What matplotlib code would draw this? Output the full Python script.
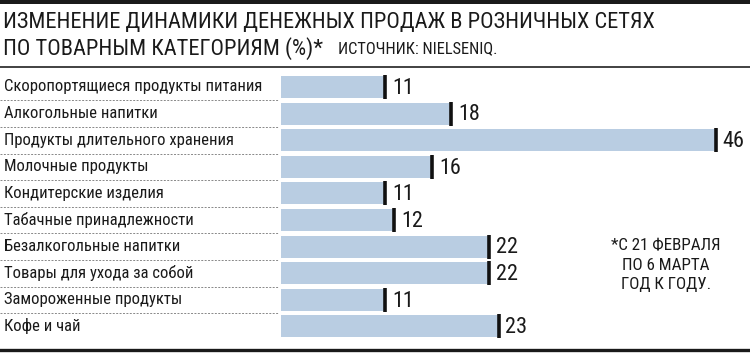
import matplotlib
matplotlib.use("Agg")
import matplotlib.pyplot as plt
from matplotlib.lines import Line2D
from matplotlib.patches import Rectangle
from matplotlib import font_manager as fm

categories = [
    "Скоропортящиеся продукты питания",
    "Алкогольные напитки",
    "Продукты длительного хранения",
    "Молочные продукты",
    "Кондитерские изделия",
    "Табачные принадлежности",
    "Безалкогольные напитки",
    "Товары для ухода за собой",
    "Замороженные продукты",
    "Кофе и чай",
]
values = [11, 18, 46, 16, 11, 12, 22, 22, 11, 23]

title_lines = ["ИЗМЕНЕНИЕ ДИНАМИКИ ДЕНЕЖНЫХ ПРОДАЖ В РОЗНИЧНЫХ СЕТЯХ",
               "ПО ТОВАРНЫМ КАТЕГОРИЯМ (%)*"]
source = "ИСТОЧНИК: NIELSENIQ."
footnote_lines = ["*С 21 ФЕВРАЛЯ", "ПО 6 МАРТА", "ГОД К ГОДУ."]

# ---- pick a condensed font if one is installed ----
def pick_font():
    cands = []
    for f in fm.fontManager.ttflist:
        name = f.name.lower()
        st = f.stretch
        cond = ("condensed" in name or "narrow" in name or
                (isinstance(st, str) and "condensed" in st) or
                (isinstance(st, (int, float)) and st < 500))
        if not cond or f.style != "normal":
            continue
        w = f.weight
        try:
            w = int(w)
        except Exception:
            w = {"normal": 400, "regular": 400, "book": 400}.get(str(w), 700)
        if w != 400:
            continue
        if "semi" in name or "extra" in name or "ultra" in name:
            pr = 2
        else:
            pr = 1
        cands.append((pr, f.name, f.fname))
    pref = ["roboto condensed", "liberation sans narrow", "noto sans", "open sans"]
    def key(c):
        n = c[1].lower()
        for i, p in enumerate(pref):
            if n.startswith(p):
                return (c[0], i, c[2])
        return (c[0], 99, c[2])
    cands.sort(key=key)
    return cands[0][2] if cands else None

font_file = pick_font()

def fp(size):
    if font_file:
        return fm.FontProperties(fname=font_file, size=size)
    return fm.FontProperties(family="Liberation Sans", size=size)

W, H = 750, 353
fig = plt.figure(figsize=(W / 100, H / 100), dpi=100)
renderer = fig.canvas.get_renderer()

def fx(px):
    return px / W

def fy(py):
    return 1 - py / H

def put(xp, yp, s, size, target_w=None, ha="left", color="#1a1a1a"):
    t = fig.text(fx(xp), fy(yp), s, fontproperties=fp(size), va="center", ha=ha, color=color)
    if target_w is not None:
        w = t.get_window_extent(renderer).width
        if w > target_w:
            t.set_fontproperties(fp(size * target_w / w))
    return t

def fit_size(s, size, target_w):
    t = fig.text(0, 0, s, fontproperties=fp(size))
    w = t.get_window_extent(renderer).width
    t.remove()
    return size * min(1.0, target_w / w)

# top black band
fig.add_artist(Rectangle((0, fy(4)), 1, 4 / H, transform=fig.transFigure,
                         color="#1a1a1a", lw=0))
# title
tsize = fit_size(title_lines[0], 21, 649)
put(3, 22.5, title_lines[0], tsize)
t2 = put(3, 48.5, title_lines[1], tsize)
t2end = t2.get_window_extent(renderer).x1
put(max(338, t2end + 12), 49, source, 12, target_w=159)
# line under title
fig.add_artist(Line2D([0, 1], [fy(67), fy(67)], transform=fig.transFigure,
                      color="#333333", lw=1.3))
# bottom thick line
fig.add_artist(Line2D([0, 1], [fy(350), fy(350)], transform=fig.transFigure,
                      color="#1a1a1a", lw=2.4))

row0, pitch = 87, 26.6
top_px = row0 - pitch / 2
bot_px = row0 + pitch * 9.5
left_px = 281
scale = (716 - 281) / 46.0
ax = fig.add_axes([fx(left_px), fy(bot_px), 1 - fx(left_px), (bot_px - top_px) / H])
ax.set_xlim(0, (W - left_px) / scale)
ax.set_ylim(len(categories) - 0.5, -0.5)
ax.axis("off")

vsize = fit_size("46", 16, 24.5)
ys = list(range(len(categories)))
ax.barh(ys, values, height=22 / pitch, color="#b9cde2", lw=0)
for y, v in zip(ys, values):
    ax.plot([v, v], [y - 0.45, y + 0.45], color="#111111", lw=2.6, solid_capstyle="butt")
    ax.text(v + 0.72, y + 0.05, str(v), fontproperties=fp(vsize), va="center",
            ha="left", color="#1a1a1a")

csize = fit_size(categories[0], 14, 259)
for i, c in enumerate(categories):
    ypx = row0 + pitch * i
    put(4, ypx, c, csize)
    if i < len(categories) - 1:
        yb = fy(ypx + pitch / 2)
        fig.add_artist(Line2D([0, fx(279)], [yb, yb], transform=fig.transFigure,
                              color="#888888", lw=0.7, ls=(0, (2, 1.5))))

fsize = fit_size(footnote_lines[0], 14.5, 110)
for j, line in enumerate(footnote_lines):
    put(666, 246 + j * 19, line, fsize, ha="center")

fig.savefig("out.png", dpi=100)
